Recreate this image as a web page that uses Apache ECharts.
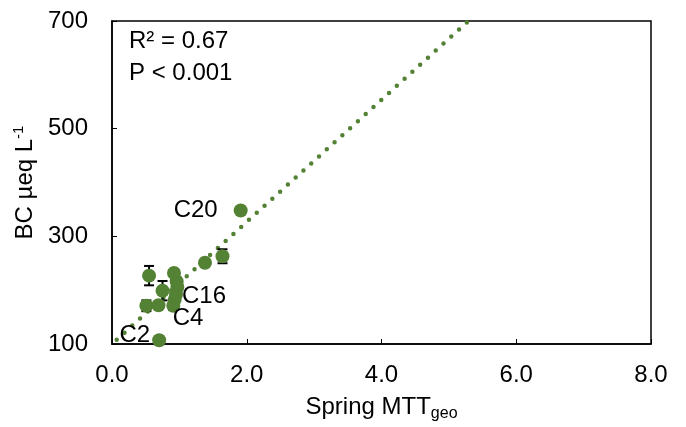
<!DOCTYPE html>
<html>
<head>
<meta charset="utf-8">
<script src="https://cdn.jsdelivr.net/npm/echarts@6/dist/echarts.min.js"></script>
<style>
  html, body { margin: 0; padding: 0; background: #fff; }
  #chart { width: 686px; height: 427px; }
</style>
</head>
<body>
<div id="chart"></div>
<script>
// 数据：Spring MTT_geo 与 BC
var mttX = [1.91, 1.64, 1.38, 0.55, 0.92, 0.96, 0.97, 0.95, 0.93, 0.75, 0.51, 0.69, 0.91, 0.70];
var bcY = [348, 263, 251, 227, 232, 216, 206, 192, 182, 199, 171, 172, 171, 107];
var bcErr = [0, 13, 0, 18, 0, 0, 0, 0, 0, 18, 10, 0, 8, 0];
var siteNames = ['C20', '', '', '', '', '', '', 'C16', 'C4', '', '', '', '', 'C2'];

// 趋势线两端
var trendX = [0.07, 5.29];
var trendY = [108, 700];

var statLines = ['R² = 0.67', 'P < 0.001'];

var green = '#548235';
var font = 'Liberation Sans, Arial, sans-serif';

// 标签位置
var labelPlace = {
    'C20': { position: 'left', distance: 16, offset: [0, 0] },
    'C16': { position: 'right', distance: 5, offset: [-6, 2] },
    'C4': { position: 'right', distance: 5, offset: [-14, 19] },
    'C2': { position: 'left', distance: 2, offset: [0, -5] }
};

var points = mttX.map(function (x, i) {
    var item = { value: [x, bcY[i]] };
    var name = siteNames[i];
    if (name) {
        var p = labelPlace[name];
        item.label = {
            show: true,
            formatter: name,
            position: p.position,
            distance: p.distance,
            offset: p.offset,
            color: '#000',
            fontSize: 24,
            fontFamily: font
        };
    }
    return item;
});

var errData = [];
mttX.forEach(function (x, i) {
    if (bcErr[i] > 0) {
        errData.push([x, bcY[i], bcErr[i]]);
    }
});

var chart = echarts.init(document.getElementById('chart'));

var option = {
    animation: false,
    backgroundColor: '#fff',
    grid: {
        left: 112,
        right: 35,
        top: 21,
        bottom: 80,
        show: true,
        borderColor: '#000',
        borderWidth: 1.5
    },
    xAxis: {
        type: 'value',
        min: 0,
        max: 8,
        interval: 2,
        name: 'Spring MTT{sub|geo}',
        nameLocation: 'middle',
        nameGap: 48,
        nameTextStyle: {
            color: '#000',
            fontSize: 24,
            fontFamily: font,
            rich: {
                sub: { fontSize: 16, fontFamily: font, color: '#000', verticalAlign: 'bottom', padding: [14, 0, 0, 0] }
            }
        },
        axisLine: { lineStyle: { color: '#000', width: 1.5 } },
        axisTick: { inside: true, length: 5, lineStyle: { color: '#000' } },
        splitLine: { show: false },
        axisLabel: {
            color: '#000',
            fontSize: 24,
            fontFamily: font,
            margin: 19,
            formatter: function (v) { return v.toFixed(1); }
        }
    },
    yAxis: {
        type: 'value',
        min: 100,
        max: 700,
        interval: 200,
        name: 'BC µeq L{sup|-1}',
        nameLocation: 'middle',
        nameGap: 68,
        nameRotate: 90,
        nameTextStyle: {
            color: '#000',
            fontSize: 24,
            fontFamily: font,
            rich: {
                sup: { fontSize: 15, fontFamily: font, color: '#000', verticalAlign: 'top', padding: [0, 0, 12, 0] }
            }
        },
        axisLine: { show: true, lineStyle: { color: '#000', width: 1.5 } },
        axisTick: { show: true, inside: true, length: 5, lineStyle: { color: '#000' } },
        splitLine: { show: false },
        axisLabel: {
            color: '#000',
            fontSize: 24,
            fontFamily: font,
            margin: 24
        }
    },
    graphic: [{
        type: 'text',
        left: 129,
        top: 26,
        style: {
            text: statLines.join('\n'),
            fill: '#000',
            font: '24px ' + font,
            lineHeight: 31.5
        }
    }],
    series: [
        {
            // 趋势线
            type: 'line',
            data: trendX.map(function (x, i) { return [x, trendY[i]]; }),
            symbol: 'none',
            lineStyle: { color: green, width: 4.5, type: [0, 10.5], cap: 'round' },
            z: 1
        },
        {
            // 误差线
            type: 'custom',
            data: errData,
            renderItem: function (params, api) {
                var x = api.value(0), y = api.value(1), e = api.value(2);
                var top = api.coord([x, y + e]);
                var bot = api.coord([x, y - e]);
                var hw = 5;
                var style = { stroke: '#000', lineWidth: 2 };
                return {
                    type: 'group',
                    children: [
                        { type: 'line', shape: { x1: top[0], y1: top[1], x2: bot[0], y2: bot[1] }, style: style },
                        { type: 'line', shape: { x1: top[0] - hw, y1: top[1], x2: top[0] + hw, y2: top[1] }, style: style },
                        { type: 'line', shape: { x1: bot[0] - hw, y1: bot[1], x2: bot[0] + hw, y2: bot[1] }, style: style }
                    ]
                };
            },
            z: 2
        },
        {
            type: 'scatter',
            data: points,
            symbol: 'circle',
            symbolSize: 14,
            itemStyle: { color: green, opacity: 1 },
            z: 3
        }
    ]
};

chart.setOption(option);
</script>
</body>
</html>
